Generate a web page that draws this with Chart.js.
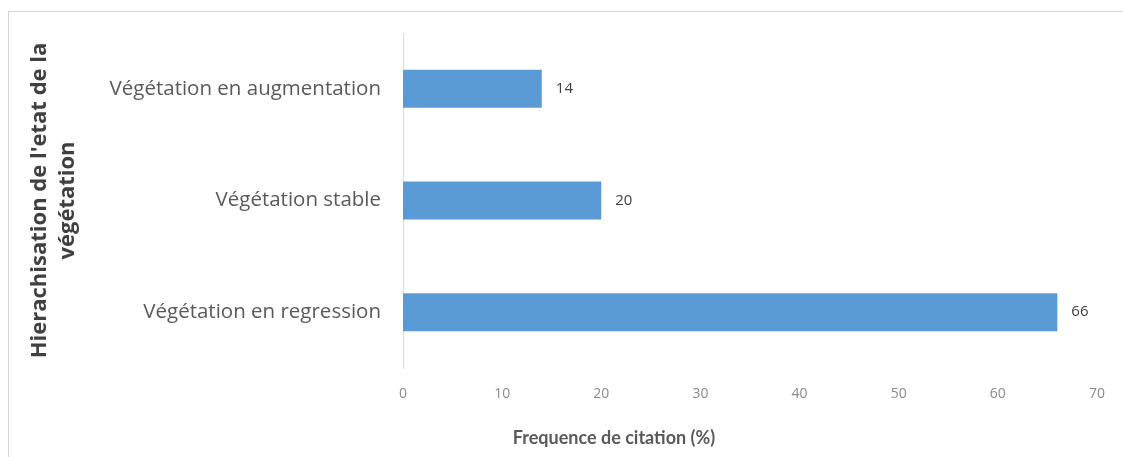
<!DOCTYPE html>
<html><head><meta charset="utf-8">
<script src="https://cdn.jsdelivr.net/npm/chart.js@4"></script>
<style>
html,body{margin:0;padding:0;background:#fff;}
#wrap{position:absolute;left:8px;top:11px;width:1114px;height:445px;border-left:1px solid #d4d4d4;border-top:1px solid #d4d4d4;}
canvas{display:block;}
</style></head><body>
<div id="wrap"><canvas id="c" width="1114" height="445"></canvas></div>
<script>
const categories = ["Végétation en augmentation", "Végétation stable", "Végétation en regression"];
const values = [14, 20, 66];
const xTicks = [0, 10, 20, 30, 40, 50, 60, 70];
const xTitle = "Frequence de citation (%)";
const yTitle = ["Hierachisation de l'etat de la", "végétation"];

const labelPlugin = {
  id: 'barLabels',
  afterDatasetsDraw(chart) {
    const ctx = chart.ctx;
    const meta = chart.getDatasetMeta(0);
    ctx.save();
    ctx.font = '15px "Open Sans"';
    ctx.fillStyle = '#404040';
    ctx.textBaseline = 'middle';
    ctx.textAlign = 'left';
    meta.data.forEach((bar, i) => {
      ctx.fillText(String(values[i]), bar.x + 14, bar.y);
    });
    ctx.restore();
  }
};

const xTitlePlugin = {
  id: 'xTitle',
  afterDraw(chart) {
    const ctx = chart.ctx;
    const xs = chart.scales.x;
    ctx.save();
    ctx.font = 'bold 18px Lato';
    ctx.fillStyle = '#595959';
    ctx.textBaseline = 'middle';
    ctx.textAlign = 'center';
    ctx.fillText(xTitle, 605, xs.bottom - 19);
    ctx.restore();
  }
};

new Chart(document.getElementById('c'), {
  type: 'bar',
  data: {
    labels: categories,
    datasets: [{
      data: values,
      backgroundColor: '#5B9BD5',
      borderWidth: 0,
      barPercentage: 0.34,
      categoryPercentage: 1.0
    }]
  },
  options: {
    indexAxis: 'y',
    responsive: false,
    animation: false,
    layout: { padding: { left: 0, right: 22, top: 21, bottom: 0 } },
    plugins: { legend: { display: false }, tooltip: { enabled: false } },
    scales: {
      x: {
        min: 0, max: 70,
        afterBuildTicks(scale) { scale.ticks = xTicks.map(v => ({ value: v })); },
        grid: { display: false, drawTicks: false },
        border: { display: false },
        ticks: { color: '#8a8a8a', font: { family: '"Open Sans"', size: 14 }, padding: 18 },
        title: { display: false },
        afterFit(scale) { scale.height = 89; }
      },
      y: {
        grid: { display: false, drawTicks: false },
        border: { display: true, color: '#d9d9d9', width: 1 },
        ticks: { color: '#595959', font: { family: '"Open Sans"', size: 20.5 }, padding: 22 },
        title: { display: true, text: yTitle, color: '#404040', font: { family: '"Open Sans"', size: 22, weight: 'bold', lineHeight: 1.27 }, padding: { top: 17, bottom: 0 } },
        afterFit(scale) { scale.width = 394; scale.paddingTop = 0; scale.paddingBottom = 0; }
      }
    }
  },
  plugins: [labelPlugin, xTitlePlugin]
});
</script>
</body></html>
